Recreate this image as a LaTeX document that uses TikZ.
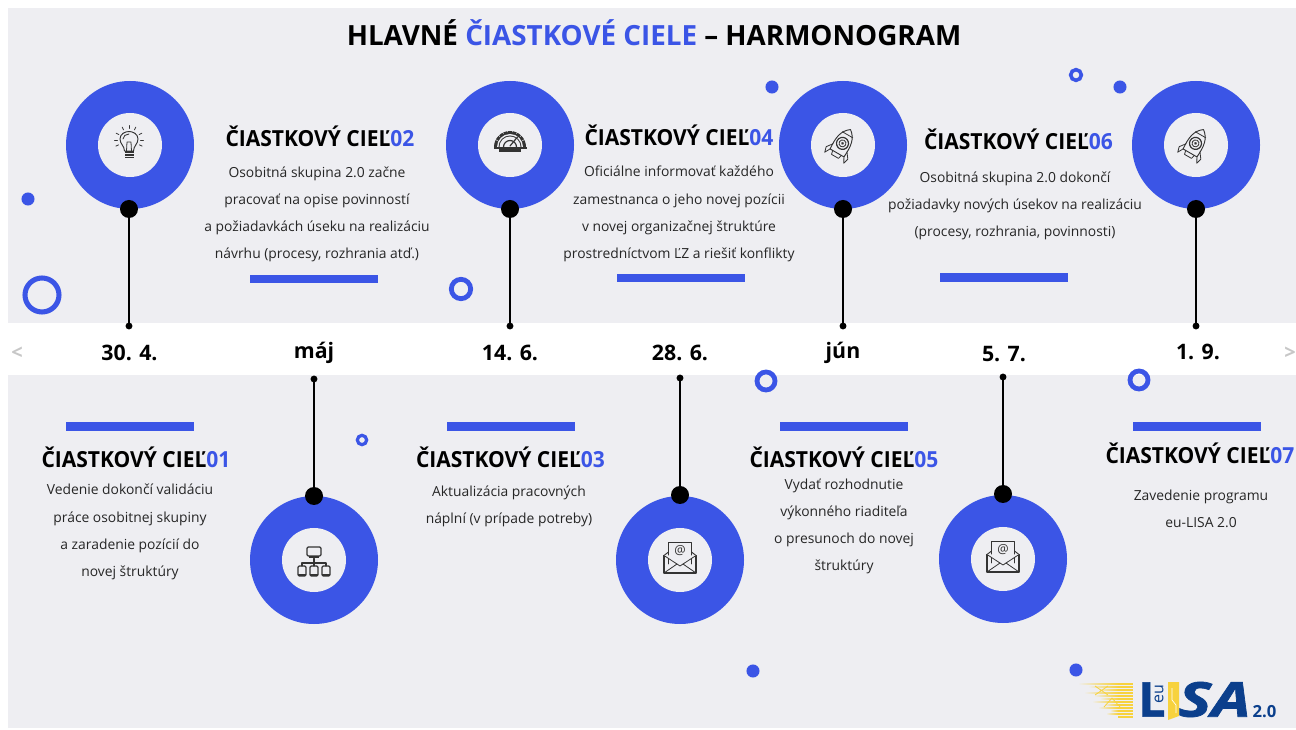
\documentclass[tikz,border=0pt]{standalone}
\usepackage{fontspec}
\setmainfont{Open Sans}
\usetikzlibrary{calc}
\definecolor{bg}{HTML}{EEEEF2}
\definecolor{accent}{HTML}{3B55E6}
\definecolor{logonavy}{HTML}{0B3F8C}
\definecolor{logogold}{HTML}{F7D23E}
\definecolor{icongray}{HTML}{333333}
\newcommand{\hd}[1]{\fontsize{16.6pt}{20pt}\selectfont\bfseries\addfontfeature{FakeStretch=0.95}ČIASTKOVÝ CIEĽ\textcolor{accent}{#1}}
\tikzset{
  x=0.75pt,y=-0.75pt,
  ringouter/.style={circle,fill=accent,minimum size=96pt,inner sep=0pt,outer sep=0pt},
  ringinner/.style={circle,fill=bg,minimum size=48pt,inner sep=0pt,outer sep=0pt},
  bigdot/.style={circle,fill=black,minimum size=13.5pt,inner sep=0pt,outer sep=0pt},
  tickdot/.style={circle,fill=black,minimum size=5.2pt,inner sep=0pt,outer sep=0pt},
  stem/.style={line width=1.5pt,black},
  barshape/.style={fill=accent,minimum width=96pt,minimum height=6.4pt,inner sep=0pt,outer sep=0pt},
  headnode/.style={inner sep=0pt,align=center},
  bodynode/.style={inner sep=0pt,align=center,font=\fontsize{10.4pt}{20.4pt}\selectfont,text=black!85},
  datenode/.style={inner sep=0pt,font=\fontsize{16pt}{18pt}\selectfont\bfseries},
  chev/.style={inner sep=0pt,text=black!22,font=\fontsize{15pt}{18pt}\selectfont\bfseries},
  decodot/.style={circle,fill=accent,minimum size=9.8pt,inner sep=0pt},
  decoring/.style={circle,draw=accent,inner sep=0pt},
  iconline/.style={draw=icongray,line width=0.6pt,line join=round,line cap=round},
  bulbicon/.pic={
    \draw[iconline,line width=0.7pt] (-4.5,11) .. controls (-4.5,6) and (-9,4) .. (-9,-1) .. controls (-9,-6) and (-4,-8.5) .. (0,-8.5) .. controls (4,-8.5) and (9,-6) .. (9,-1) .. controls (9,4) and (4.5,6) .. (4.5,11) -- cycle;
    \draw[iconline] (-2.5,11) -- (-2,2) -- (2,2) -- (2.5,11);
    \draw[iconline] (-6,-1) .. controls (-6,-4) and (-3,-6) .. (0,-6);
    \fill[icongray] (-4.5,11) rectangle (4.5,18.5);
    \draw[bg,line width=0.5pt] (-4.5,13.5) -- (4.5,13.5) (-4.5,16) -- (4.5,16);
    \foreach \a in {0,-28,-62,-90,-118,-152,180,25,155}{
      \draw[iconline] (\a:11.5) -- (\a:14.5);}
  },
  gaugeicon/.pic={
    \fill[icongray] (-16,2) arc[start angle=180,end angle=360,x radius=16,y radius=16] -- cycle;
    \fill[bg] (-13,2) arc[start angle=180,end angle=360,x radius=13,y radius=13] -- cycle;
    \fill[icongray] (-11.5,2) arc[start angle=180,end angle=360,x radius=11.5,y radius=11.5] -- cycle;
    \fill[bg] (-10.5,2) arc[start angle=180,end angle=360,x radius=10.5,y radius=10.5] -- cycle;
    \draw[iconline,line width=0.9pt] (-6.5,2) arc[start angle=180,end angle=360,x radius=6.5,y radius=6.5];
    \draw[iconline,line width=0.9pt] (0,1) -- (7.5,-8);
    \foreach \a in {-20,-40,-60,-80,-100,-120,-140,-160}{
      \draw[bg,line width=0.4pt] (\a:13) -- (\a:16);}
    \fill[icongray] (-16.5,2) rectangle (16.5,4);
    \fill[icongray] (-11,4) rectangle (11,7);
  },
  rocketicon/.pic={
    \begin{scope}[rotate=-30]
    \draw[iconline,line width=0.7pt] (0,-19) .. controls (8,-13) and (9,-5) .. (8,8) -- (-8,8) .. controls (-9,-5) and (-8,-13) .. (0,-19) -- cycle;
    \draw[iconline] (-6,-13) -- (6,-13);
    \draw[iconline] (-8,2) -- (-12.5,8) -- (-11,13.5) -- (-8,8);
    \draw[iconline] (8,2) -- (12.5,8) -- (11,13.5) -- (8,8);
    \draw[iconline] (-5,8) -- (-4,12) -- (4,12) -- (5,8);
    \draw[iconline,line width=0.9pt] (0,-3) circle[radius=6];
    \draw[iconline] (0,-3) circle[radius=3.5];
    \fill[icongray] (0,-3) circle[radius=1.5];
    \end{scope}
  },
  netbox/.style={draw=icongray,line width=0.9pt,rounded corners=1pt},
  neticon/.pic={
    \draw[netbox] (-7,-12) rectangle (7,-3);
    \fill[icongray] (-5,-2.5) rectangle (5,-0.5);
    \draw[iconline,line width=0.8pt] (0,-0.5) -- (0,4) (-12,7) -- (-12,4) -- (12,4) -- (12,7) (0,4) -- (0,7);
    \foreach \q in {-12,0,12}{
      \draw[netbox] (\q-4,7) rectangle (\q+4,17);
      \fill[icongray] (\q-4,15) rectangle (\q+4,17.5);}
  },
  mailicon/.pic={
    \draw[iconline,fill=bg] (-11.5,5) -- (-11.5,-16.5) -- (11.5,-16.5) -- (11.5,5);
    \draw[iconline,line width=0.7pt] (-16,-3.5) -- (-11.5,-7) (16,-3.5) -- (11.5,-7);
    \draw[iconline,line width=0.8pt] (-16,-3.5) -- (-16,14) -- (16,14) -- (16,-3.5);
    \draw[iconline,fill=bg] (-16,-3.5) -- (0,7) -- (16,-3.5);
    \draw[iconline] (-16,14) -- (-3,5) (16,14) -- (3,5);
    \node[inner sep=0pt,text=icongray,font=\fontsize{9.5pt}{10pt}\selectfont] at (0,-8.5) {@};
  }
}
\begin{document}
\begin{tikzpicture}
\useasboundingbox (0,0) rectangle (1296,730);
\fill[white] (0,0) rectangle (1296,730);
\fill[bg] (8,8) rectangle (1296,728);
\fill[white] (8,323) rectangle (1296,375);

% title
\node[inner sep=0pt,font=\fontsize{20.85pt}{24pt}\selectfont\bfseries] (title) at (654,32.5) {HLAVNÉ \textcolor{accent}{ČIASTKOVÉ CIELE} – HARMONOGRAM};

% decorations
\node[decodot] (d1) at (28,199) {};
\node[decoring,line width=3.8pt,minimum size=25.5pt] (d2) at (42,295) {};
\node[decoring,line width=3.6pt,minimum size=14.5pt] (d3) at (461,289) {};
\node[decodot] (d4) at (772,87) {};
\node[decoring,line width=2.7pt,minimum size=8pt] (d5) at (1076,75) {};
\node[decodot] (d6) at (1120,87) {};
\node[decoring,line width=3.6pt,minimum size=13.5pt] (d7) at (766,381) {};
\node[decoring,line width=3.6pt,minimum size=13.5pt] (d8) at (1139,380) {};
\node[decoring,line width=2.4pt,minimum size=7pt] (d9) at (362,440) {};
\node[decodot] (d10) at (753,671) {};
\node[decodot] (d11) at (1076,670) {};

% rings
\foreach \n/\cx/\cy in {1/130/145,2/314/560,3/510/145,4/680/560,5/843/145,6/1003/559,7/1196/145}{
  \node[ringouter] (ring\n) at (\cx,\cy) {};
  \node[ringinner] (core\n) at (\cx,\cy) {};
}
% icons
\pic at (129,140) {bulbicon};
\pic at (510,145) {gaugeicon};
\pic at (841,146) {rocketicon};
\pic at (1194,146) {rocketicon};
\pic at (314,559) {neticon};
\pic at (680,559) {mailicon};
\pic at (1003,558) {mailicon};

% stems
\foreach \n/\dx/\dy/\ty in {1/129/209/326,2/314/496/379,3/510/209/326,4/680/495/378,5/843/209/326,6/1003/494/377,7/1196/209/326}{
  \node[bigdot] (pin\n) at (\dx,\dy) {};
  \node[tickdot] (tick\n) at (\dx,\ty) {};
  \draw[stem] (pin\n) -- (tick\n);
}

% chevrons and dates
\node[chev] (prev) at (17,353) {<};
\node[chev] (next) at (1290,353) {>};
\node[datenode] (date1) at (129.5,353) {30. 4.};
\node[datenode] (date2) at (314,353) {máj};
\node[datenode] (date3) at (510,353) {14. 6.};
\node[datenode] (date4) at (680,353) {28. 6.};
\node[datenode] (date5) at (843,353) {jún};
\node[datenode] (date6) at (1004,354) {5. 7.};
\node[datenode] (date7) at (1198,352) {1. 9.};

% bars
\node[barshape] (bar2) at (314,279) {};
\node[barshape] (bar4) at (681,278) {};
\node[barshape] (bar6) at (1003.5,277.5) {};
\node[barshape] (bar1) at (130,426.5) {};
\node[barshape] (bar3) at (510.5,426.5) {};
\node[barshape] (bar5) at (844,426.5) {};
\node[barshape] (bar7) at (1197,426.5) {};

% headings
\node[headnode] (h1) at (136,457) {\hd{01}};
\node[headnode] (h2) at (320,136) {\hd{02}};
\node[headnode] (h3) at (510.5,457) {\hd{03}};
\node[headnode] (h4) at (679,135) {\hd{04}};
\node[headnode] (h5) at (844,457) {\hd{05}};
\node[headnode] (h6) at (1018.5,139) {\hd{06}};
\node[headnode] (h7) at (1200,453) {\hd{07}};

% bodies
\node[bodynode] (b1) at (130,532) {Vedenie dokončí validáciu\\práce osobitnej skupiny\\a zaradenie pozícií do\\novej štruktúry};
\node[bodynode] (b2) at (317,214.5) {Osobitná skupina 2.0 začne\\pracovať na opise povinností\\a požiadavkách úseku na realizáciu\\návrhu (procesy, rozhrania atď.)};
\node[bodynode] (b3) at (509,506) {Aktualizácia pracovných\\náplní (v prípade potreby)};
\node[bodynode] (b4) at (679,214) {Oficiálne informovať každého\\zamestnanca o jeho novej pozícii\\v novej organizačnej štruktúre\\prostredníctvom ĽZ a riešiť konflikty};
\node[bodynode] (b5) at (844,526.5) {Vydať rozhodnutie\\výkonného riaditeľa\\o presunoch do novej\\štruktúry};
\node[bodynode] (b6) at (1015,206) {Osobitná skupina 2.0 dokončí\\požiadavky nových úsekov na realizáciu\\(procesy, rozhrania, povinnosti)};
\node[bodynode] (b7) at (1201,509) {Zavedenie programu\\eu-LISA 2.0};

% logo
\foreach \yy/\st in {683/1078,686/1088,689/1098,692/1084,695/1094,698/1100,701/1092,704/1104,707/1098,710/1110,713/1106,716/1118}{
  \shade[left color=bg,right color=logogold,middle color=logogold!55!bg] (\st,\yy) rectangle (1118,\yy+1.2);
  \fill[logogold] (1118,\yy) rectangle (1133,\yy+1.5);
}
\draw[logogold,line width=0.6pt] (1095,686) -- (1108,695) (1108,686) -- (1095,695) (1112,698) -- (1120,707) (1104,707) -- (1112,698);
\fill[logogold] (1168,682) -- (1179,682) -- (1179,716) -- (1168,720) -- cycle;
\draw[white,line width=0.5pt] (1172,688) -- (1172,700) -- (1176,705) -- (1176,713);
\node[inner sep=0pt,text=logonavy,font=\fontsize{36pt}{36pt}\selectfont\bfseries\addfontfeature{FakeBold=1.2}] (logoL) at (1152,699.5) {L};
\node[inner sep=0pt,text=logonavy,rotate=90,font=\fontsize{12pt}{12pt}\selectfont] (logoeu) at (1159,694) {eu};
\node[inner sep=0pt,text=logonavy,font=\fontsize{36pt}{36pt}\selectfont\bfseries\itshape\addfontfeature{FakeStretch=1.3,FakeBold=1.5}] (logoSA) at (1214.5,699.5) {SA};
\node[inner sep=0pt,text=logonavy,font=\fontsize{12.5pt}{13pt}\selectfont\bfseries] (logover) at (1264.5,712) {2.0};
\end{tikzpicture}
\end{document}
